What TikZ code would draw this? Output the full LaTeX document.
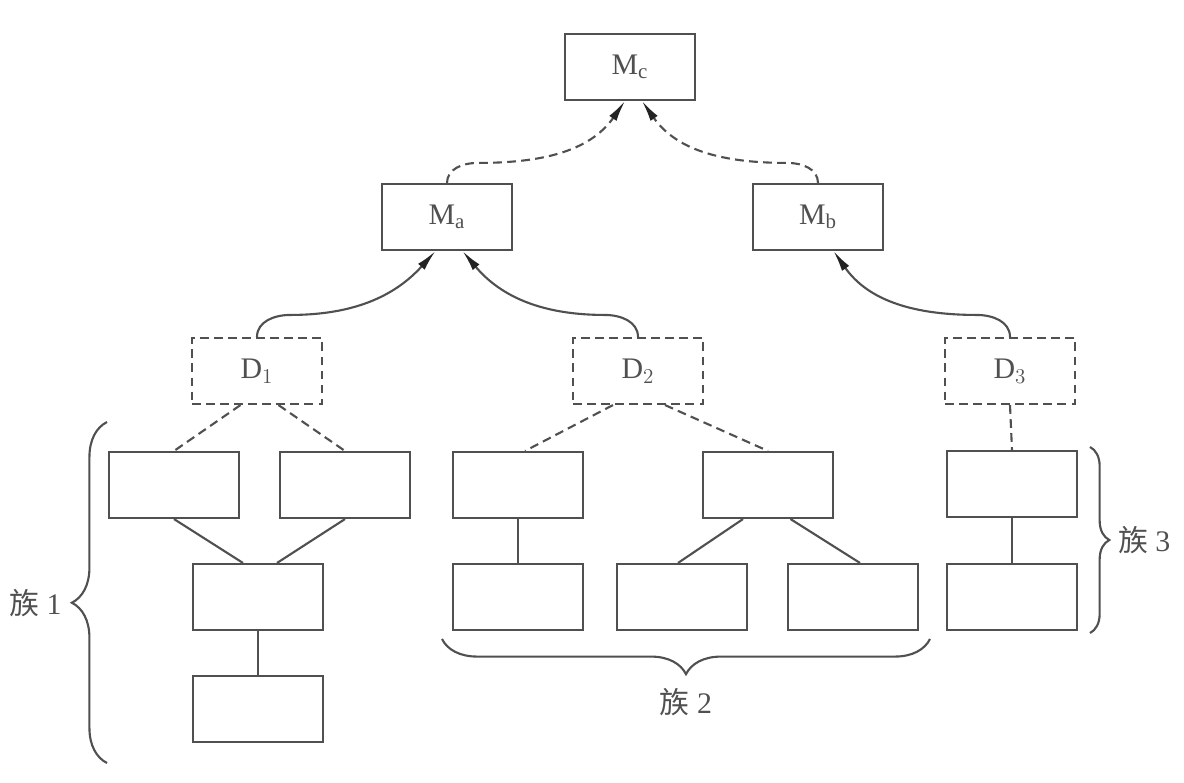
\documentclass[tikz,border=0pt]{standalone}
\usepackage{fontspec}
\setmainfont{Liberation Serif}
\newfontfamily\cjk{Noto Sans CJK SC}
\usetikzlibrary{arrows.meta, decorations.pathreplacing}
\definecolor{linegray}{RGB}{80,80,80}
\definecolor{tipgray}{RGB}{35,35,35}

\begin{document}
\begin{tikzpicture}[x=0.02cm,y=-0.02cm,line width=1.2pt,draw=linegray,text=linegray,
    every node/.style={font=\fontsize{17}{20}\selectfont},
    box/.style={draw,rectangle,minimum width=2.6cm,minimum height=1.32cm,inner sep=0pt},
    dbox/.style={box,dash pattern=on 5pt off 3pt},
    dline/.style={dash pattern=on 5pt off 3pt},
    up/.style={-{Latex[length=12pt,width=5pt,color=tipgray]}},
    fam/.style={decorate,decoration={brace,amplitude=20pt}}]
    \useasboundingbox (0,0) rectangle (1184,782);
    % top level
    \node[box] (mc) at (630,67) {M$_\mathrm{c}$};
    \node[box] (ma) at (447,217) {M$_\mathrm{a}$};
    \node[box] (mb) at (818,217) {M$_\mathrm{b}$};
    % domains
    \node[dbox] (d1) at (257,371) {D$_1$};
    \node[dbox] (d2) at (638,371) {D$_2$};
    \node[dbox] (d3) at (1010,371) {D$_3$};
    % family 1
    \node[box] (f1a) at (174,485) {};
    \node[box] (f1b) at (345,485) {};
    \node[box] (f1c) at (258,597) {};
    \node[box] (f1d) at (258,709) {};
    % family 2
    \node[box] (f2a) at (518,485) {};
    \node[box] (f2b) at (768,485) {};
    \node[box] (f2c) at (518,597) {};
    \node[box] (f2d) at (682,597) {};
    \node[box] (f2e) at (853,597) {};
    % family 3
    \node[box] (f3a) at (1012,484) {};
    \node[box] (f3b) at (1012,597) {};

    \draw[up,dline] (ma.north) to[out=90,in=180] ++(30,-20) to[out=0,in=235] ([xshift=-0.1cm]mc.south);
    \draw[up,dline] (mb.north) to[out=90,in=0] ++(-30,-20) to[out=180,in=-55] ([xshift=0.24cm]mc.south);
    \draw[up] (d1.north) to[out=90,in=180] ++(33,-22) to[out=0,in=228] ([xshift=-0.23cm]ma.south);
    \draw[up] (d2.north) to[out=90,in=0] ++(-33,-22) to[out=180,in=-50] ([xshift=0.31cm]ma.south);
    \draw[up] (d3.north) to[out=90,in=0] ++(-33,-22) to[out=180,in=-55] ([xshift=0.31cm]mb.south);

    \draw[dline] ([xshift=-0.33cm]d1.south) -- (f1a.north);
    \draw[dline] ([xshift=0.43cm]d1.south) -- (f1b.north);
    \draw[dline] ([xshift=-0.5cm]d2.south) -- ([xshift=0.14cm]f2a.north);
    \draw[dline] ([xshift=0.54cm]d2.south) -- (f2b.north);
    \draw[dline] (d3.south) -- (f3a.north);

    \draw (f1a.south) -- ([xshift=-0.3cm]f1c.north);
    \draw (f1b.south) -- ([xshift=0.38cm]f1c.north);
    \draw (f1c) -- (f1d);
    \draw (f2a) -- (f2c);
    \draw ([xshift=-0.5cm]f2b.south) -- ([xshift=-0.08cm]f2d.north);
    \draw ([xshift=0.45cm]f2b.south) -- ([xshift=0.14cm]f2e.north);
    \draw (f3a) -- (f3b);

    % families
    \draw[fam,decoration={aspect=0.47}] (107,763) -- (107,422) node[pos=0.47,left=22pt] (l1) {{\cjk 族} 1};
    \draw[fam] (930,639) -- (442,639) node[midway,below=24pt] (l2) {{\cjk 族} 2};
    \draw[fam,decoration={amplitude=11pt}] (1090,447) -- (1090,633) node[midway,right=12pt] (l3) {{\cjk 族} 3};
\end{tikzpicture}
\end{document}
